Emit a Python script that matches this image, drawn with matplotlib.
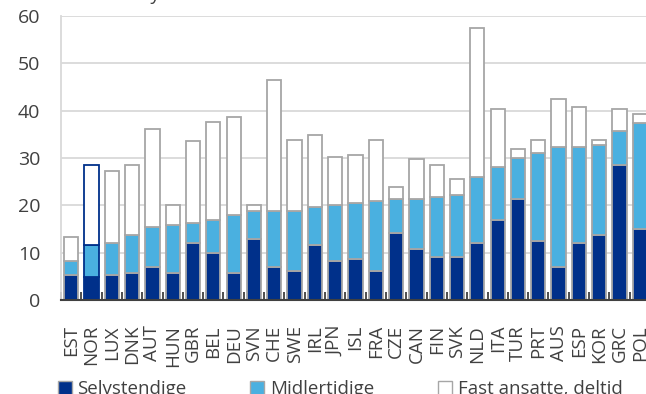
import matplotlib
matplotlib.use("Agg")
import matplotlib.pyplot as plt
from matplotlib.patches import Patch
import numpy as np

plt.rcParams['font.family'] = ['Open Sans', 'DejaVu Sans']

countries = ["EST", "NOR", "LUX", "DNK", "AUT", "HUN", "GBR", "BEL", "DEU", "SVN",
             "CHE", "SWE", "IRL", "JPN", "ISL", "FRA", "CZE", "CAN", "FIN", "SVK",
             "NLD", "ITA", "TUR", "PRT", "AUS", "ESP", "KOR", "GRC", "POL"]

# Cumulative levels (percent of employment)
selvstendige = [5.2, 4.8, 5.2, 5.6, 7.0, 5.6, 12.0, 9.9, 5.6, 12.8,
                6.9, 6.1, 11.6, 8.2, 8.6, 6.1, 14.1, 10.8, 9.0, 9.0,
                12.0, 17.0, 21.3, 12.4, 6.9, 12.0, 13.7, 28.5, 14.9]
midlertidige_topp = [8.2, 11.6, 12.1, 13.7, 15.4, 15.8, 16.2, 17.0, 17.9, 18.7,
                     18.7, 18.7, 19.6, 20.0, 20.4, 20.9, 21.3, 21.3, 21.7, 22.1,
                     25.9, 28.0, 30.1, 31.0, 32.3, 32.3, 32.7, 35.6, 37.3]
totalt = [13.4, 28.6, 27.3, 28.6, 36.1, 20.1, 33.6, 37.7, 38.6, 20.1,
          46.5, 33.9, 34.8, 30.2, 30.6, 33.9, 23.9, 29.7, 28.5, 25.6,
          57.4, 40.3, 31.8, 33.9, 42.4, 40.7, 33.9, 40.3, 39.4]

yticks = [0, 10, 20, 30, 40, 50, 60]

dark = "#00308A"
light = "#4AB0E0"
edge = "#A6A6A6"
text_col = "#404040"

self_v = np.array(selvstendige)
mid_v = np.array(midlertidige_topp) - self_v
fast_v = np.array(totalt) - np.array(midlertidige_topp)

W, H = 646, 394
fig = plt.figure(figsize=(W / 100, H / 100), dpi=100)
ax = fig.add_axes([61 / W, (H - 300) / H, 589 / W, 284 / H])

x = np.arange(len(countries))
edges = [dark if c == "NOR" else edge for c in countries]
bw = 0.7
lw = 1.3
ax.bar(x, self_v, bw, color=dark, edgecolor=edges, linewidth=lw, zorder=3)
ax.bar(x, mid_v, bw, bottom=self_v, color=light, edgecolor=edges, linewidth=lw, zorder=3)
ax.bar(x, fast_v, bw, bottom=self_v + mid_v, color="white", edgecolor=edges,
       linewidth=lw, zorder=3)

ax.set_xlim(-0.5, len(countries) - 0.5)
ax.set_ylim(0, 60)
ax.set_yticks(yticks)
ax.set_yticklabels([str(t) for t in yticks])
ax.yaxis.grid(True, color="#D9D9D9", linewidth=1.3, zorder=0)
ax.set_axisbelow(True)

ax.set_xticks(x)
ax.set_xticklabels(countries, rotation=90, va="top", ha="center")
ax.tick_params(axis="x", length=0, pad=18, labelsize=13.5, labelcolor=text_col)
ax.tick_params(axis="y", length=0, pad=15, labelsize=14, labelcolor=text_col)

# category boundary ticks
ax.set_xticks(np.arange(-0.5, len(countries), 1), minor=True)
ax.tick_params(axis="x", which="minor", direction="in", length=6, width=1.3,
               color=text_col)

for s in ["top", "right"]:
    ax.spines[s].set_visible(False)
ax.spines["left"].set_color("#D9D9D9")
ax.spines["left"].set_linewidth(1.3)
ax.spines["bottom"].set_color(text_col)
ax.spines["bottom"].set_linewidth(1.5)
ax.spines["bottom"].set_zorder(4)

fig.text(62 / W, 1.0, "Andel av sysselsatte", fontsize=13.5, color=text_col,
         ha="left", va="baseline")

handles = [Patch(facecolor=dark, edgecolor=edge, linewidth=1.0),
           Patch(facecolor=light, edgecolor=edge, linewidth=1.0),
           Patch(facecolor="white", edgecolor=edge, linewidth=1.0)]
labels = ["Selvstendige", "Midlertidige", "Fast ansatte, deltid"]
fig.legend(handles, labels, loc="lower left", bbox_to_anchor=(50 / W, -12 / H),
           ncol=3, frameon=False, fontsize=13.5, handlelength=0.75,
           handleheight=0.75, handletextpad=0.3, columnspacing=3.4,
           labelcolor=text_col, borderaxespad=0)

fig.savefig("out.png", dpi=100)
